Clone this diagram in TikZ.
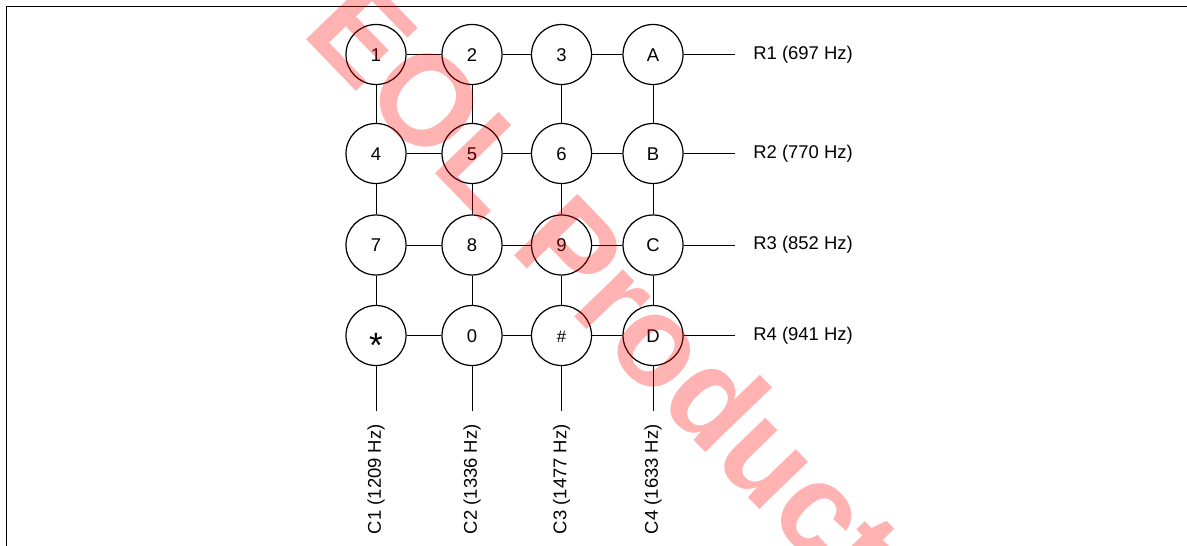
\documentclass[tikz,border=0pt]{standalone}
\usepackage{fontspec}
\setmainfont{Liberation Sans}
\begin{document}
\begin{tikzpicture}[every node/.style={font=\fontsize{10.5}{12}\selectfont},
    keybtn/.style={circle, draw, line width=0.7pt, minimum size=1.2cm, inner sep=0pt, text height=7.5pt, text depth=0pt},
    freq/.style={inner sep=0pt},
    wire/.style={line width=0.5pt}]
            \useasboundingbox (0,0) rectangle (23.74,-10.92);
            \draw[line width=0.8pt] (0.125,-10.92) |- (23.74,-0.125);

            % keypad
            \node[keybtn] (k1) at (7.52,-1.09) {1};
            \node[keybtn] (k2) at (9.44,-1.09) {2};
            \node[keybtn] (k3) at (11.23,-1.09) {3};
            \node[keybtn] (kA) at (13.06,-1.09) {A};
            \node[keybtn] (k4) at (7.52,-3.07) {4};
            \node[keybtn] (k5) at (9.44,-3.07) {5};
            \node[keybtn] (k6) at (11.23,-3.07) {6};
            \node[keybtn] (kB) at (13.06,-3.07) {B};
            \node[keybtn] (k7) at (7.52,-4.9) {7};
            \node[keybtn] (k8) at (9.44,-4.9) {8};
            \node[keybtn] (k9) at (11.23,-4.9) {9};
            \node[keybtn] (kC) at (13.06,-4.9) {C};
            \node[keybtn] (kS) at (7.52,-6.71) {\fontsize{20}{20}\selectfont\raisebox{-9pt}{*}};
            \node[keybtn] (k0) at (9.44,-6.71) {0};
            \node[keybtn] (kH) at (11.23,-6.71) {\fontsize{9.5}{10}\selectfont\#};
            \node[keybtn] (kD) at (13.06,-6.71) {D};

            % row and column ends
            \coordinate (r1) at (14.7,-1.09);
            \coordinate (r2) at (14.7,-3.07);
            \coordinate (r3) at (14.7,-4.9);
            \coordinate (r4) at (14.7,-6.71);
            \coordinate (c1) at (7.52,-8.22);
            \coordinate (c2) at (9.44,-8.22);
            \coordinate (c3) at (11.23,-8.22);
            \coordinate (c4) at (13.06,-8.22);

            \node[freq, anchor=west] (lr1) at (15.06,-1.09) {R1 (697 Hz)};
            \node[freq, anchor=west] (lr2) at (15.06,-3.07) {R2 (770 Hz)};
            \node[freq, anchor=west] (lr3) at (15.06,-4.9) {R3 (852 Hz)};
            \node[freq, anchor=west] (lr4) at (15.06,-6.71) {R4 (941 Hz)};
            \node[freq, anchor=east, rotate=90] (lc1) at (7.52,-8.48) {C1 (1209 Hz)};
            \node[freq, anchor=east, rotate=90] (lc2) at (9.44,-8.48) {C2 (1336 Hz)};
            \node[freq, anchor=east, rotate=90] (lc3) at (11.23,-8.48) {C3 (1477 Hz)};
            \node[freq, anchor=east, rotate=90] (lc4) at (13.06,-8.48) {C4 (1633 Hz)};

            \draw[wire] (k1) -- (k2) -- (k3) -- (kA) -- (r1);
            \draw[wire] (k4) -- (k5) -- (k6) -- (kB) -- (r2);
            \draw[wire] (k7) -- (k8) -- (k9) -- (kC) -- (r3);
            \draw[wire] (kS) -- (k0) -- (kH) -- (kD) -- (r4);
            \draw[wire] (k1) -- (k4) -- (k7) -- (kS) -- (c1);
            \draw[wire] (k2) -- (k5) -- (k8) -- (k0) -- (c2);
            \draw[wire] (k3) -- (k6) -- (k9) -- (kH) -- (c3);
            \draw[wire] (kA) -- (kB) -- (kC) -- (kD) -- (c4);

            \node[rotate=-46, text=red, text opacity=0.3, font=\fontsize{73}{73}\selectfont\bfseries] (eol) at (12.12,-5.68) {EOL Product};
        \end{tikzpicture}
\end{document}
